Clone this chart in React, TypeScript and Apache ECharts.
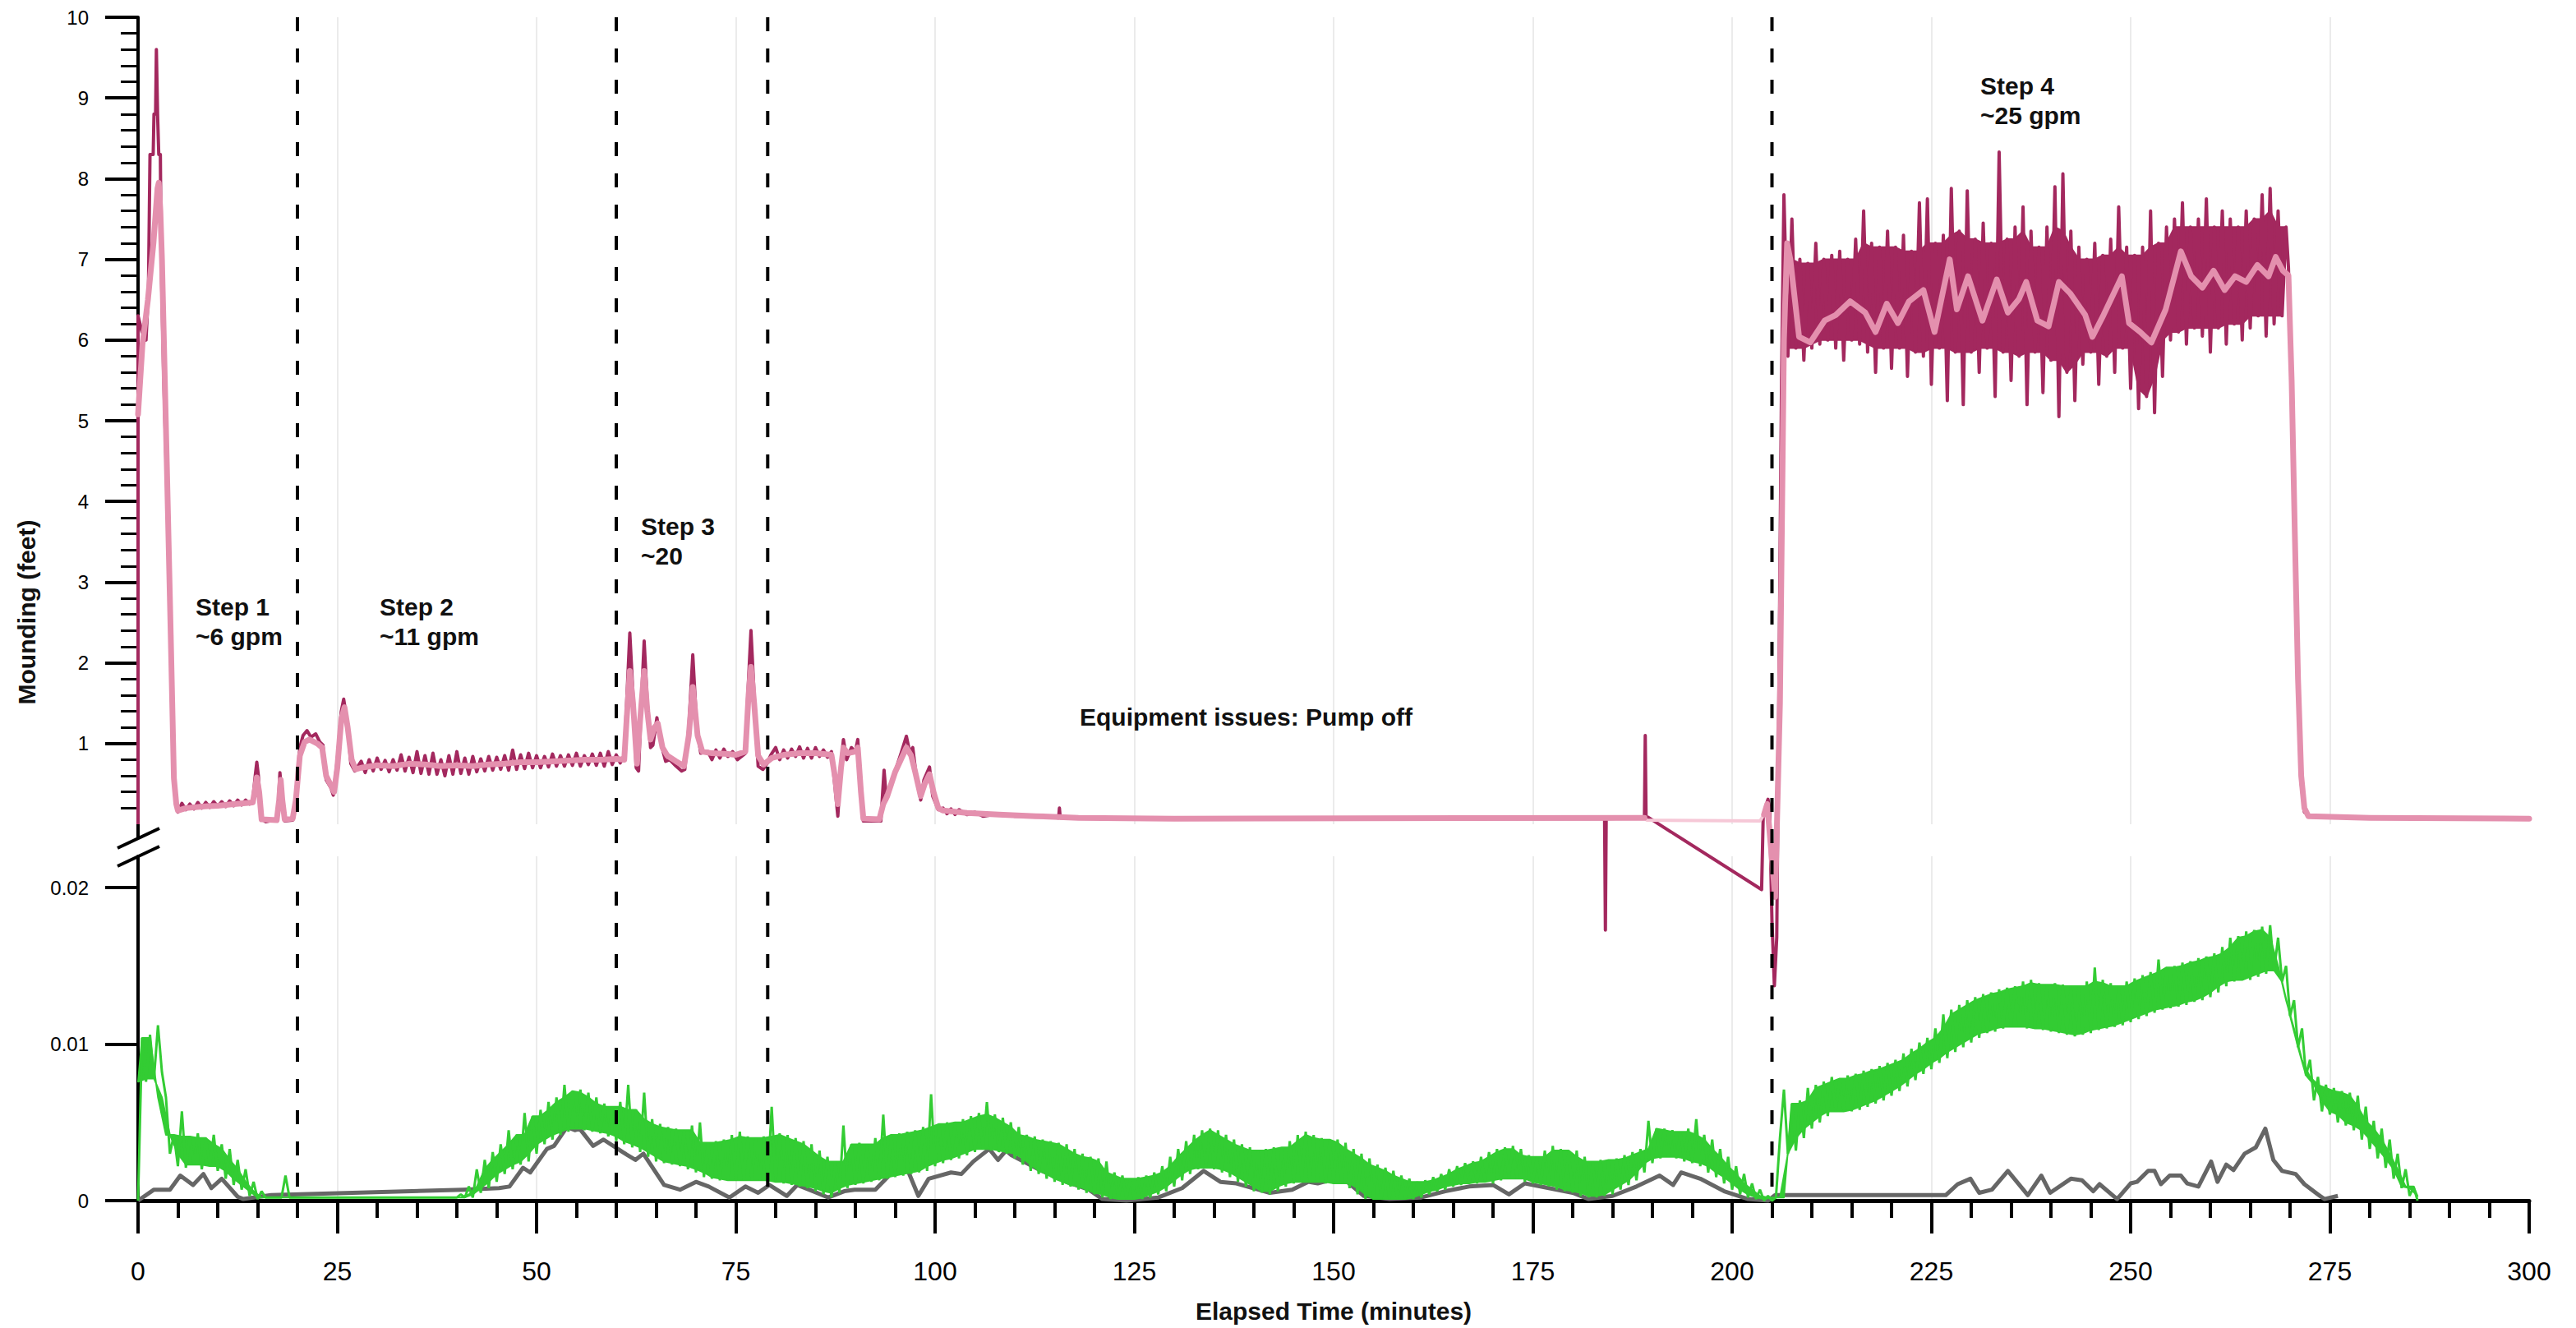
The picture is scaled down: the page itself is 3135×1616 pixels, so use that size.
import { useEffect, useRef } from "react";
import * as echarts from "echarts";

const FONT = '"Liberation Sans", Arial, Helvetica, sans-serif';

// ---- axes ----
const timeMin = 0;
const timeMax = 300;
const timeMajor = 25;
const mountingTicks = [1, 2, 3, 4, 5, 6, 7, 8, 9, 10];
const lowerTicks = [0, 0.01, 0.02];
const lowerMax = 0.022;

// pumping-step boundaries (minutes)
const stepMarks = [20, 60, 79, 205];

// ---- upper panel: mounding (feet) ----
// raw transducer trace up to the start of step 4
const maroonLead: [number, number][] = [
  [0, 0], [0, 6.3], [0.5, 6.1], [1.0, 6.0], [1.3, 6.6], [1.5, 8.3], [1.9, 8.3], [2.0, 8.8], [2.2, 8.8], [2.3, 9.6],
  [2.45, 8.8], [2.6, 8.3], [2.8, 8.3], [2.9, 7.0], [3.2, 5.6], [3.6, 4.2], [4.1, 2.2], [4.5, 0.6], [4.8, 0.3], [5.0, 0.15],
  [5.5, 0.26], [6, 0.18], [6.5, 0.25], [7, 0.19], [7.5, 0.27], [8, 0.2], [8.5, 0.27], [9, 0.21], [9.5, 0.28], [10, 0.22],
  [10.5, 0.28], [11, 0.22], [11.5, 0.29], [12, 0.23], [12.5, 0.3], [13, 0.24], [13.5, 0.3], [14, 0.25], [14.4, 0.3],
  [14.7, 0.6], [14.9, 0.77], [15.1, 0.6], [15.4, 0.08], [16, 0.03], [17, 0.05], [17.5, 0.06], [17.8, 0.64], [18.1, 0.3],
  [18.4, 0.04], [19.4, 0.05], [19.8, 0.35], [20.3, 0.95], [20.7, 1.1], [21.2, 1.16], [21.7, 1.08], [22.3, 1.12], [22.8, 1.02],
  [23.2, 0.98], [23.6, 0.55], [24.2, 0.45], [24.5, 0.36], [25.0, 0.8], [25.5, 1.4], [25.8, 1.55], [26.2, 1.3], [26.7, 0.75],
  [27.2, 0.66], [28, 0.78], [28.5, 0.64], [29, 0.8], [29.5, 0.66], [30, 0.82], [30.5, 0.68], [31, 0.79], [31.5, 0.65],
  [32, 0.8], [32.5, 0.67], [33, 0.86], [33.5, 0.66], [34, 0.83], [34.5, 0.64], [35, 0.9], [35.5, 0.63], [36, 0.85],
  [36.5, 0.62], [37, 0.88], [37.5, 0.62], [38, 0.8], [38.5, 0.6], [39, 0.85], [39.5, 0.62], [40, 0.9], [40.5, 0.63],
  [41, 0.82], [41.5, 0.62], [42, 0.84], [42.5, 0.65], [43, 0.81], [43.5, 0.66], [44, 0.84], [44.5, 0.67], [45, 0.83],
  [45.5, 0.68], [46, 0.85], [46.5, 0.67], [47, 0.92], [47.5, 0.68], [48, 0.86], [48.5, 0.69], [49, 0.88], [49.5, 0.7],
  [50, 0.85], [50.5, 0.7], [51, 0.84], [51.5, 0.71], [52, 0.87], [52.5, 0.72], [53, 0.85], [53.5, 0.72], [54, 0.86],
  [54.5, 0.73], [55, 0.88], [55.5, 0.72], [56, 0.85], [56.5, 0.74], [57, 0.87], [57.5, 0.73], [58, 0.88], [58.5, 0.72],
  [59, 0.9], [59.5, 0.74], [60, 0.86], [60.5, 0.76], [61, 0.85],
  [61.3, 1.5], [61.7, 2.37], [62.1, 1.6], [62.5, 0.7], [62.8, 0.66], [63.1, 1.4], [63.5, 2.27], [63.9, 1.5], [64.3, 0.95],
  [64.6, 0.98], [65.1, 1.32], [65.6, 1.0], [66.2, 0.78], [66.7, 0.8], [67.5, 0.72], [68.2, 0.66], [68.6, 0.68], [69.1, 1.2],
  [69.6, 2.1], [70.1, 1.2], [70.6, 0.88], [71.5, 0.9], [72, 0.8], [72.5, 0.92], [73, 0.82], [73.5, 0.93], [74, 0.84],
  [74.6, 0.9], [75.2, 0.8], [76.2, 0.88], [76.5, 1.6], [76.9, 2.4], [77.3, 1.6], [77.8, 0.72], [78.4, 0.68], [78.9, 0.75],
  [79.4, 0.86], [80, 0.95], [80.5, 0.8], [81, 0.92], [81.5, 0.82], [82, 0.93], [82.5, 0.84], [83, 0.96], [83.5, 0.82],
  [84, 0.94], [84.5, 0.82], [85, 0.95], [85.5, 0.84], [86, 0.92], [86.5, 0.83], [87, 0.9], [87.4, 0.5], [87.8, 0.1],
  [88.2, 0.75], [88.5, 1.05], [88.9, 0.8], [89.5, 0.95], [90, 0.9], [90.3, 1.05], [90.7, 0.45], [91, 0.04], [93.2, 0.04],
  [93.6, 0.67], [93.9, 0.3], [94.3, 0.45], [94.8, 0.6], [95.3, 0.75], [95.8, 0.9], [96.4, 1.09], [96.8, 0.9], [97.2, 0.95],
  [97.7, 0.55], [98.2, 0.3], [98.6, 0.55], [99.3, 0.71], [99.7, 0.35], [100.4, 0.18], [101, 0.2], [101.5, 0.13], [102, 0.19],
  [102.5, 0.12], [103, 0.18], [104, 0.12], [105, 0.15], [106, 0.1], [108, 0.13], [110, 0.1], [112.6, 0.1], [115.5, 0.08],
  [115.6, 0.2], [115.7, 0.08], [130, 0.07], [184, 0.07], [184.1, -1.31], [184.2, 0.07], [189, 0.08], [189.1, 1.1],
  [189.2, 0.08], [189.4, 0.09], [203.7, -0.81], [203.9, 0.1], [204.5, 0.31], [204.7, 0.2], [205.0, -1.2], [205.3, -2.0],
  [205.6, -1.4], [205.9, 2.0], [206.2, 5.5], [206.5, 7.8],
];

// step 4: half-minute samples alternating trough / crest of the noisy trace
const maroonStep4: [number, number][] = [
  [207, 5.8], [207.5, 7.5], [208, 5.9], [208.5, 7.0], [209, 5.75], [209.5, 6.95], [210, 5.9], [210.5, 7.2],
  [211, 5.95], [211.5, 7.0], [212, 6.0], [212.5, 7.05], [213, 5.9], [213.5, 7.1], [214, 5.75], [214.5, 7.0],
  [215, 6.0], [215.5, 7.25], [216, 5.95], [216.5, 7.6], [217, 5.85], [217.5, 7.2], [218, 5.6], [218.5, 7.15],
  [219, 5.9], [219.5, 7.35], [220, 5.65], [220.5, 7.15], [221, 5.9], [221.5, 7.3], [222, 5.55], [222.5, 7.1],
  [223, 5.85], [223.5, 7.7], [224, 5.8], [224.5, 7.75], [225, 5.45], [225.5, 7.2], [226, 5.9], [226.5, 7.3],
  [227, 5.25], [227.5, 7.88], [228, 5.85], [228.5, 7.35], [229, 5.2], [229.5, 7.85], [230, 5.85], [230.5, 7.25],
  [231, 5.6], [231.5, 7.45], [232, 5.9], [232.5, 7.2], [233, 5.3], [233.5, 8.33], [234, 5.85], [234.5, 7.25],
  [235, 5.5], [235.5, 7.4], [236, 5.8], [236.5, 7.65], [237, 5.2], [237.5, 7.35], [238, 5.85], [238.5, 7.15],
  [239, 5.35], [239.5, 7.4], [240, 5.75], [240.5, 7.9], [241, 5.05], [241.5, 8.06], [242, 5.6], [242.5, 7.35],
  [243, 5.25], [243.5, 7.15], [244, 5.7], [244.5, 7.0], [245, 5.85], [245.5, 7.2], [246, 5.45], [246.5, 7.05],
  [247, 5.8], [247.5, 7.25], [248, 5.6], [248.5, 7.65], [249, 5.9], [249.5, 7.15], [250, 5.4], [250.5, 7.05],
  [251, 5.15], [251.5, 7.15], [252, 5.3], [252.5, 7.6], [253, 5.1], [253.5, 7.2], [254, 5.55], [254.5, 7.4],
  [255, 6.0], [255.5, 7.5], [256, 6.1], [256.5, 7.7], [257, 5.95], [257.5, 7.4], [258, 6.15], [258.5, 7.5],
  [259, 6.05], [259.5, 7.75], [260, 5.85], [260.5, 7.4], [261, 6.15], [261.5, 7.6], [262, 5.95], [262.5, 7.5],
  [263, 6.2], [263.5, 7.4], [264, 6.0], [264.5, 7.6], [265, 6.15], [265.5, 7.5], [266, 6.3], [266.5, 7.8],
  [267, 6.05], [267.5, 7.88], [268, 6.2], [268.5, 7.6], [269, 6.3], [269.5, 7.4],
];

const maroonTail: [number, number][] = [
  [269.8, 6.9], [270.2, 5.2], [270.6, 3.4], [271, 1.6], [271.4, 0.5], [271.8, 0.15], [272.5, 0.1], [280, 0.08], [300, 0.07],
];

// smoothed trace
const pinkPts: [number, number | null][] = [
  [0, 5.08], [0.55, 5.94], [1.24, 6.5], [1.93, 7.2], [2.44, 7.88], [2.6, 7.95], [2.8, 7.6], [3.0, 7.0], [3.6, 4.5],
  [4.1, 2.35], [4.5, 0.57], [4.8, 0.25], [5.0, 0.17], [6, 0.2], [8, 0.22], [10, 0.23], [12, 0.25], [14.4, 0.27],
  [14.7, 0.45], [14.9, 0.58], [15.2, 0.4], [15.5, 0.06], [17.4, 0.05], [17.7, 0.3], [17.9, 0.55], [18.1, 0.3], [18.4, 0.06],
  [19.4, 0.07], [19.8, 0.3], [20.3, 0.85], [20.9, 1.02], [21.5, 1.05], [22.5, 1.0], [23.1, 0.95], [23.6, 0.6], [24.2, 0.48],
  [24.6, 0.4], [25.0, 0.7], [25.5, 1.3], [25.9, 1.45], [26.3, 1.2], [26.8, 0.8], [27.3, 0.68], [28, 0.7], [30, 0.73],
  [32, 0.72], [34, 0.75], [36, 0.74], [38, 0.72], [40, 0.73], [42, 0.72], [44, 0.74], [46, 0.75], [48, 0.77], [50, 0.77],
  [52, 0.78], [54, 0.79], [56, 0.8], [58, 0.8], [60, 0.81], [61, 0.8], [61.3, 1.3], [61.7, 1.9], [62.1, 1.5], [62.6, 0.75],
  [63.0, 1.3], [63.5, 1.9], [63.9, 1.4], [64.3, 1.05], [64.8, 1.2], [65.2, 1.25], [65.8, 0.95], [66.4, 0.85], [67.5, 0.78],
  [68.5, 0.72], [69.1, 1.1], [69.6, 1.7], [70.2, 1.1], [70.8, 0.9], [72, 0.88], [74, 0.87], [75, 0.86], [76.2, 0.9],
  [76.6, 1.6], [76.9, 1.95], [77.3, 1.5], [77.8, 0.85], [78.5, 0.74], [79.5, 0.82], [81, 0.86], [83, 0.88], [85, 0.88],
  [87, 0.86], [87.5, 0.55], [87.8, 0.25], [88.2, 0.7], [88.5, 0.95], [89, 0.88], [90, 0.9], [90.3, 0.95], [90.7, 0.4],
  [91, 0.07], [93, 0.06], [93.5, 0.25], [94, 0.35], [94.5, 0.5], [95, 0.65], [95.7, 0.8], [96.4, 0.95], [97, 0.85],
  [97.5, 0.65], [98.2, 0.35], [98.7, 0.5], [99.3, 0.62], [99.8, 0.4], [100.4, 0.2], [101, 0.17], [104, 0.14], [108, 0.12],
  [112.6, 0.1], [118, 0.08], [130, 0.07], [189, 0.08], [189.3, null],
  [204.0, 0.12], [204.4, 0.25], [205.4, -0.9], [206.0, 1.5], [206.5, 6.0], [206.9, 7.2], [207.3, 7.0], [208.4, 6.04],
  [209.8, 5.97], [211.6, 6.24], [213.0, 6.31], [214.8, 6.48], [216.7, 6.34], [218.0, 6.1], [219.4, 6.45], [220.8, 6.21],
  [222.2, 6.48], [224.0, 6.62], [225.4, 6.1], [227.3, 7.0], [228.2, 6.38], [229.6, 6.79], [231.4, 6.24], [233.2, 6.75],
  [234.6, 6.34], [236.0, 6.51], [236.9, 6.72], [238.3, 6.24], [239.7, 6.17], [241.0, 6.72], [242.4, 6.58], [244.3, 6.31],
  [245.2, 6.04], [246.6, 6.31], [248.9, 6.79], [249.8, 6.21], [251.2, 6.1], [252.6, 5.97], [254.4, 6.38], [256.3, 7.1],
  [257.6, 6.79], [259.0, 6.65], [260.4, 6.86], [261.8, 6.62], [263.1, 6.79], [264.5, 6.72], [265.9, 6.93], [267.3, 6.79],
  [268.2, 7.03], [269.1, 6.86], [269.8, 6.8], [270.2, 5.5], [270.6, 3.6], [271.0, 1.8], [271.4, 0.6], [271.8, 0.2],
  [272.3, 0.1], [280, 0.08], [300, 0.07],
];

// smoothed trace while the pump was off
const pinkFaintPts: [number, number][] = [
  [189, 0.08], [189.3, 0.05], [203.5, 0.04], [204.0, 0.12],
];

// ---- lower panel ----
// half-minute samples from t = 0, alternating trough / crest of the noisy trace
const greenStep = 0.5;
const greenValues = [
  0, .0104, .0076, .0106, .0078, .0112, .0082, .0066, .0030, .0042,
  .0022, .0057, .0021, .0041, .0023, .0043, .0020, .0040, .0022, .0042,
  .0019, .0036, .0014, .0033, .0010, .0026, .0007, .0020, .0003, .0012,
  .0001, .0006, .0002, .0002, .0002, .0002, .0002, .0016, .0002, .0002,
  .0002, .0002, .0002, .0002, .0002, .0002, .0002, .0002, .0002, .0002,
  .0002, .0002, .0002, .0002, .0002, .0002, .0002, .0002, .0002, .0002,
  .0002, .0002, .0002, .0002, .0002, .0002, .0002, .0002, .0002, .0002,
  .0002, .0002, .0002, .0002, .0002, .0002, .0002, .0002, .0002, .0002,
  .0002, .0004, .0002, .0009, .0002, .0020, .0005, .0026, .0008, .0031,
  .0012, .0036, .0017, .0045, .0020, .0042, .0023, .0056, .0025, .0054,
  .0030, .0058, .0036, .0063, .0039, .0066, .0042, .0074, .0044, .0070,
  .0046, .0071, .0045, .0069, .0044, .0066, .0043, .0062, .0041, .0060,
  .0038, .0063, .0036, .0074, .0034, .0058, .0031, .0069, .0028, .0052,
  .0025, .0049, .0024, .0047, .0023, .0046, .0022, .0045, .0020, .0048,
  .0018, .0050, .0015, .0037, .0014, .0038, .0013, .0039, .0013, .0042,
  .0013, .0044, .0013, .0041, .0013, .0040, .0013, .0041, .0012, .0060,
  .0012, .0043, .0011, .0042, .0010, .0040, .0009, .0038, .0008, .0036,
  .0006, .0032, .0004, .0028, .0002, .0025, .0005, .0048, .0008, .0036,
  .0010, .0037, .0011, .0036, .0012, .0040, .0013, .0055, .0014, .0042,
  .0015, .0043, .0016, .0044, .0017, .0045, .0018, .0047, .0019, .0068,
  .0022, .0049, .0024, .0050, .0026, .0050, .0027, .0052, .0029, .0054,
  .0031, .0056, .0033, .0063, .0032, .0055, .0031, .0053, .0030, .0050,
  .0027, .0047, .0023, .0042, .0019, .0041, .0017, .0039, .0014, .0038,
  .0012, .0037, .0010, .0036, .0009, .0033, .0007, .0030, .0005, .0028,
  .0004, .0027, .0002, .0025, .0001, .0018, .0001, .0016, .0001, .0014,
  .0001, .0015, .0001, .0016, .0002, .0018, .0004, .0022, .0006, .0028,
  .0009, .0033, .0013, .0038, .0017, .0042, .0020, .0045, .0021, .0046,
  .0020, .0045, .0018, .0042, .0015, .0039, .0012, .0036, .0009, .0034,
  .0006, .0032, .0005, .0033, .0004, .0034, .0006, .0034, .0009, .0038,
  .0011, .0042, .0012, .0044, .0012, .0042, .0012, .0040, .0011, .0039,
  .0011, .0039, .0011, .0037, .0008, .0033, .0004, .0030, .0001, .0027,
  .0001, .0023, .0001, .0021, .0001, .0019, .0001, .0016, .0001, .0014,
  .0001, .0012, .0002, .0013, .0004, .0015, .0006, .0017, .0007, .0020,
  .0009, .0022, .0010, .0024, .0011, .0025, .0011, .0028, .0012, .0031,
  .0011, .0033, .0013, .0034, .0014, .0035, .0014, .0033, .0012, .0029,
  .0011, .0028, .0010, .0032, .0009, .0035, .0007, .0033, .0006, .0032,
  .0005, .0032, .0003, .0028, .0002, .0025, .0002, .0026, .0003, .0026,
  .0004, .0027, .0007, .0029, .0010, .0031, .0013, .0033, .0018, .0051,
  .0024, .0046, .0027, .0046, .0028, .0045, .0027, .0044, .0025, .0046,
  .0024, .0052, .0022, .0042, .0018, .0039, .0015, .0033, .0011, .0028,
  .0007, .0022, .0004, .0017, .0002, .0011, .0001, .0007, 0, .0003,
  0, .0002, .0040, .0071, .0030, .0062, .0032, .0064, .0040, .0072,
  .0046, .0074, .0050, .0076, .0054, .0079, .0057, .0078, .0057, .0080,
  .0057, .0081, .0058, .0083, .0060, .0084, .0062, .0086, .0064, .0088,
  .0067, .0090, .0070, .0094, .0073, .0097, .0077, .0101, .0081, .0104,
  .0084, .0110, .0088, .0119, .0091, .0122, .0095, .0125, .0098, .0128,
  .0101, .0130, .0104, .0132, .0107, .0133, .0108, .0135, .0110, .0136,
  .0111, .0137, .0111, .0140, .0110, .0141, .0110, .0139, .0109, .0138,
  .0108, .0139, .0107, .0138, .0106, .0137, .0105, .0137, .0106, .0140,
  .0107, .0149, .0109, .0141, .0110, .0139, .0111, .0137, .0112, .0140,
  .0114, .0142, .0116, .0144, .0118, .0146, .0120, .0154, .0122, .0149,
  .0123, .0150, .0124, .0152, .0125, .0153, .0127, .0155, .0128, .0156,
  .0130, .0158, .0133, .0162, .0137, .0168, .0140, .0169, .0141, .0172,
  .0141, .0173, .0143, .0175, .0145, .0176, .0147, .0168, .0140, .0150,
  .0118, .0128, .0098, .0110, .0080, .0090, .0064, .0079, .0057, .0074,
  .0055, .0072, .0050, .0070, .0048, .0069, .0045, .0067, .0039, .0060,
  .0033, .0051, .0027, .0046, .0021, .0039, .0014, .0030, .0008, .0020,
  .0003, .0009, 0,
];

const grayPts: [number, number][] = [
  [0, 0], [2, .0007], [4, .0007], [5.3, .0016], [6.9, .001], [8.2, .0017], [9.2, .0008], [10.5, .0014], [12.5, .00025],
  [13.2, .0001], [16.7, .00035], [40.8, .0007], [45.3, .0008], [46.6, .0009], [48.3, .0021], [49.2, .0018], [51.3, .0033],
  [52.2, .0035], [53.8, .0047], [54.8, .0045], [55.4, .0046], [57.1, .0035], [58.4, .0039], [60.8, .0031], [62.4, .0026],
  [63.4, .003], [66, .001], [68, .0007], [70, .0012], [71.6, .0009], [74.2, .0002], [76.2, .0009], [77.8, .0005],
  [79.2, .001], [81.4, .0003], [82.7, .001], [84.7, .0006], [86.6, .0002], [88.6, .0006], [89.9, .0007], [92.5, .0007],
  [94.6, .0018], [96.6, .0019], [97.9, .0003], [99.2, .0014], [102, .0018], [103.3, .0017], [104.8, .0025], [106.8, .0033],
  [107.9, .0026], [108.9, .0032], [109.6, .0029], [113, .002], [116.5, .0012], [119.3, .0007], [121, .0001], [124, 0],
  [128, .0002], [131, .0008], [133.7, .0019], [135.8, .0012], [137.8, .0011], [142, .0005], [144.8, .0007], [146.8, .0012],
  [148, .0011], [151, .0015], [153.8, .0003], [157, .0001], [161, .0002], [164, .0006], [167, .0009], [170, .001],
  [172, .0004], [174, .0011], [177, .0008], [180, .0005], [182, .0001], [185, .0003], [188, .0009], [190.9, .0016],
  [192.6, .001], [193.6, .0018], [196, .0014], [199, .0006], [202, .0001], [204.5, 0], [205.4, .00035], [226.8, .00035],
  [228.3, .00105], [229.9, .0014], [231, .0005], [232.6, .0007], [234.6, .0019], [237.1, .00035], [238.8, .0016],
  [239.9, .0005], [242.5, .0014], [243.9, .0013], [245.3, .0006], [246.1, .00105], [248.3, .0001], [250, .0011],
  [250.8, .0012], [252.2, .0019], [253, .0019], [253.8, .00105], [254.9, .0016], [256.3, .0016], [257.1, .0011],
  [258.5, .0009], [260.1, .0025], [260.9, .0012], [262, .0023], [262.9, .00195], [264.3, .003], [265.7, .0034],
  [266.9, .0046], [267.9, .0026], [269, .0019], [270.7, .0017], [271.8, .00105], [273.5, .0004], [274.3, .0001], [276, .0003],
];

// ---- layout ----
const PLOT_LEFT = 168;
const PLOT_WIDTH = 2910;
const UPPER_TOP = 21;
const UPPER_HEIGHT = 982;
const LOWER_TOP = 1042;
const LOWER_HEIGHT = 419;

const C_MAROON = "#a3285e";
const C_PINK = "#e490ae";
const C_PINK_FAINT = "#f6c8d7";
const C_GREEN = "#33cc33";
const C_GRAY = "#666666";
const C_GRID = "#ebebeb";

// Fills the dense core of an alternating trough/crest trace: each crest is lowered to the
// smallest of its neighbouring crests (and each trough raised likewise), so isolated spikes
// of the trace itself still stand out from the filled band.
function noiseBand(points: number[][], xAxisIndex: number, yAxisIndex: number, color: string, z: number) {
  const crests = points.filter((_, i) => i % 2 === 1);
  const troughs = points.filter((_, i) => i % 2 === 0);
  const crestCore = crests.map((p, k) => {
    const a = crests[k - 1] ?? p;
    const b = crests[k + 1] ?? p;
    return [p[0], Math.min(p[1], a[1], b[1])];
  });
  const troughCore = troughs.map((p, k) => {
    const a = troughs[k - 1] ?? p;
    const b = troughs[k + 1] ?? p;
    let v = Math.max(p[1], a[1], b[1]);
    const ca = crestCore[k - 1];
    const cb = crestCore[k];
    const cap = Math.max(ca ? ca[1] : v, cb ? cb[1] : v);
    v = Math.min(v, cap, Math.max(p[1], Math.min(ca ? ca[1] : v, cb ? cb[1] : v)));
    return [p[0], v];
  });
  return {
    type: "custom",
    coordinateSystem: "cartesian2d",
    xAxisIndex,
    yAxisIndex,
    z,
    clip: false,
    silent: true,
    data: [points[0]],
    renderItem: (_params: any, api: any) => {
      const top = crestCore.map((p) => api.coord(p));
      const bottom = troughCore.map((p) => api.coord(p)).reverse();
      return {
        type: "polygon",
        shape: { points: top.concat(bottom) },
        style: { fill: color, stroke: color, lineWidth: 2, lineJoin: "round" },
      };
    },
  };
}

function buildOption(): echarts.EChartsOption {
  const greenData = greenValues.map((v, i) => [i * greenStep, v]);
  const maroonData = [...maroonLead, ...maroonStep4, ...maroonTail];
  const splitLine = { show: true, showMaxLine: false, lineStyle: { color: C_GRID, width: 2 } };
  return {
    animation: false,
    backgroundColor: "#ffffff",
    grid: [
      { left: PLOT_LEFT, top: UPPER_TOP, width: PLOT_WIDTH, height: UPPER_HEIGHT },
      { left: PLOT_LEFT, top: LOWER_TOP, width: PLOT_WIDTH, height: LOWER_HEIGHT },
    ],
    xAxis: [
      {
        type: "value", gridIndex: 0, min: timeMin, max: timeMax, interval: timeMajor,
        axisLine: { show: false }, axisTick: { show: false }, axisLabel: { show: false },
        splitLine,
      },
      {
        type: "value", gridIndex: 1, min: timeMin, max: timeMax, interval: timeMajor,
        axisLine: { show: true, onZero: false, lineStyle: { color: "#000", width: 5 } },
        axisTick: { show: true, length: 40, lineStyle: { color: "#000", width: 4 } },
        minorTick: { show: true, splitNumber: 5, length: 21, lineStyle: { color: "#000", width: 4 } },
        axisLabel: { show: true, margin: 70, color: "#000", fontSize: 32, fontFamily: FONT },
        splitLine,
      },
    ],
    yAxis: [
      {
        type: "value", gridIndex: 0, min: 0, max: 10, interval: 1,
        axisLine: { show: true, onZero: false, lineStyle: { color: "#000", width: 4 } },
        axisTick: { show: true, length: 40, customValues: mountingTicks, lineStyle: { color: "#000", width: 4 } },
        minorTick: { show: true, splitNumber: 5, length: 21, lineStyle: { color: "#000", width: 3 } },
        axisLabel: { show: true, margin: 60, customValues: mountingTicks, color: "#000", fontSize: 24, fontFamily: FONT },
        splitLine: { show: false },
      },
      {
        type: "value", gridIndex: 1, min: 0, max: lowerMax, interval: 0.01,
        axisLine: { show: true, onZero: false, lineStyle: { color: "#000", width: 4 } },
        axisTick: { show: true, length: 40, customValues: lowerTicks, lineStyle: { color: "#000", width: 4 } },
        axisLabel: {
          show: true, margin: 60, customValues: lowerTicks, color: "#000", fontSize: 24, fontFamily: FONT,
          formatter: (v: number) => String(Math.round(v * 100) / 100),
        },
        splitLine: { show: false },
      },
    ],
    series: [
      {
        type: "line", xAxisIndex: 1, yAxisIndex: 1, data: grayPts, symbol: "none", clip: false, z: 2,
        lineStyle: { color: C_GRAY, width: 5, join: "round" },
      },
      noiseBand(greenData, 1, 1, C_GREEN, 3) as any,
      {
        type: "line", xAxisIndex: 1, yAxisIndex: 1, data: greenData, symbol: "none", clip: false, z: 3,
        lineStyle: { color: C_GREEN, width: 3 },
      },
      noiseBand(maroonStep4, 0, 0, C_MAROON, 4) as any,
      {
        type: "line", xAxisIndex: 0, yAxisIndex: 0, data: maroonData, symbol: "none", clip: false, z: 4,
        lineStyle: { color: C_MAROON, width: 4, join: "round" },
      },
      {
        type: "line", xAxisIndex: 0, yAxisIndex: 0, data: pinkFaintPts, symbol: "none", clip: false, z: 5,
        lineStyle: { color: C_PINK_FAINT, width: 4 },
      },
      {
        type: "line", xAxisIndex: 0, yAxisIndex: 0, data: pinkPts, symbol: "none", clip: false, z: 5,
        connectNulls: false, lineStyle: { color: C_PINK, width: 7, join: "round", cap: "round" },
      },
    ],
  };
}

const labelFont = `bold 30px ${FONT}`;

export default function App() {
  const ref = useRef<HTMLDivElement>(null);
  useEffect(() => {
    const el = ref.current;
    if (!el) return;
    const chart = echarts.init(el, undefined, { renderer: "svg" });
    chart.setOption(buildOption());

    const xPix = (t: number) => chart.convertToPixel({ xAxisIndex: 1 }, t) as unknown as number;
    const yTop = chart.convertToPixel({ yAxisIndex: 0 }, 10) as unknown as number;
    const yUpperZero = chart.convertToPixel({ yAxisIndex: 0 }, 0) as unknown as number;
    const yBase = chart.convertToPixel({ yAxisIndex: 1 }, 0) as unknown as number;
    const yLowerTop = chart.convertToPixel({ yAxisIndex: 1 }, lowerMax) as unknown as number;
    const x0 = xPix(timeMin);
    const xMid = (xPix(timeMin) + xPix(timeMax)) / 2;

    const dashed = stepMarks.map((t) => ({
      type: "line",
      z: 100,
      shape: { x1: xPix(t), y1: yTop, x2: xPix(t), y2: yBase },
      style: { stroke: "#000", lineWidth: 4, lineDash: [17, 21] },
    }));

    // axis break marks between the two panels
    const brk1 = yLowerTop - 22;
    const breakMarks = [
      { type: "line", z: 100, shape: { x1: x0, y1: yUpperZero, x2: x0, y2: brk1 }, style: { stroke: "#000", lineWidth: 4 } },
      { type: "line", z: 100, shape: { x1: x0 - 25, y1: brk1 + 12, x2: x0 + 26, y2: brk1 - 12 }, style: { stroke: "#000", lineWidth: 4 } },
      { type: "line", z: 100, shape: { x1: x0 - 25, y1: yLowerTop + 12, x2: x0 + 26, y2: yLowerTop - 12 }, style: { stroke: "#000", lineWidth: 4 } },
    ];

    const notes = [
      { text: "Step 1\n~6 gpm", x: 238, y: 720 },
      { text: "Step 2\n~11 gpm", x: 462, y: 720 },
      { text: "Step 3\n~20", x: 780, y: 622 },
      { text: "Step 4\n~25 gpm", x: 2410, y: 86 },
      { text: "Equipment issues: Pump off", x: 1314, y: 854 },
    ].map((n) => ({
      type: "text",
      z: 110,
      x: n.x,
      y: n.y,
      style: { text: n.text, font: labelFont, fill: "#111", lineHeight: 36, textAlign: "left", textVerticalAlign: "top" },
    }));

    const titles = [
      {
        type: "text", z: 110, x: xMid, y: 1595,
        style: { text: "Elapsed Time (minutes)", font: labelFont, fill: "#111", textAlign: "center", textVerticalAlign: "middle" },
      },
      {
        type: "text", z: 110, x: 32, y: 745, rotation: Math.PI / 2,
        style: { text: "Mounding (feet)", font: labelFont, fill: "#111", textAlign: "center", textVerticalAlign: "middle" },
      },
    ];

    chart.setOption({ graphic: [...dashed, ...breakMarks, ...notes, ...titles] } as any);
    return () => chart.dispose();
  }, []);

  return (
    <div
      ref={ref}
      style={{ position: "fixed", left: 0, top: 0, width: 3135, height: 1616, background: "#fff" }}
    />
  );
}
